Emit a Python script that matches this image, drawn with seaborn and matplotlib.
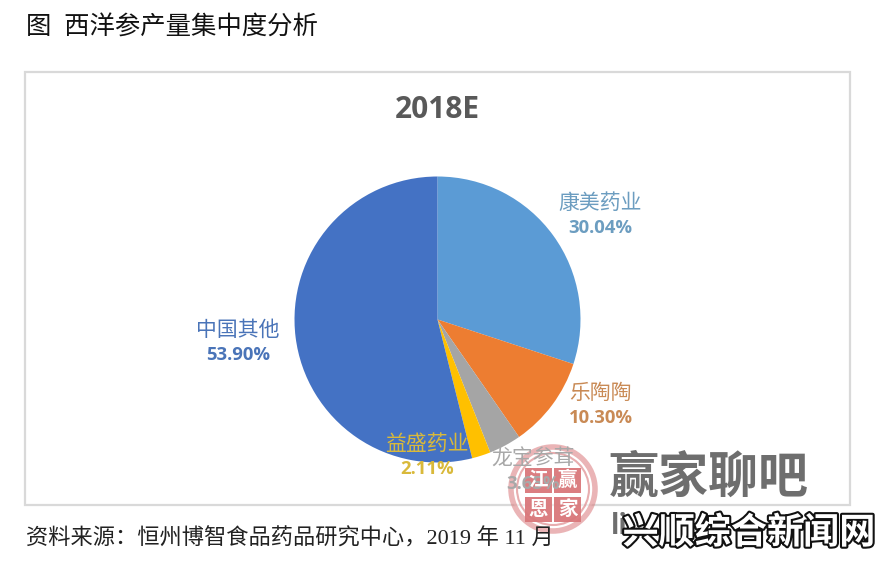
import matplotlib
matplotlib.use("Agg")
import matplotlib.pyplot as plt
import matplotlib.patheffects as pe
from matplotlib.patches import Circle, Rectangle
import seaborn as sns

sns.set_theme(style="white")
CJK = ["Noto Sans CJK SC", "DejaVu Sans"]
SERIF = ["Liberation Serif", "Noto Sans CJK SC"]
plt.rcParams["font.family"] = CJK

# --- data ---
companies = ["康美药业", "乐陶陶", "龙宝参茸", "益盛药业", "中国其他"]
shares = [30.04, 10.30, 3.65, 2.11, 53.90]
share_labels = ["30.04%", "10.30%", "3.65%", "2.11%", "53.90%"]
chart_title = "2018E"
page_title = "图  西洋参产量集中度分析"
source_note = "资料来源：恒州博智食品药品研究中心，2019 年 11 月"

# --- style ---
slice_colors = sns.color_palette(["#5B9BD5", "#ED7D31", "#A5A5A5", "#FFC000", "#4472C4"])
label_colors = ["#6C9DC0", "#C98A55", "#A8A8A8", "#D9B93A", "#4A74B8"]
label_px = [(600, 215), (601, 405), (533, 471), (427, 456), (238, 342)]

W, H = 888, 563
fig = plt.figure(figsize=(W / 100, H / 100), dpi=100, facecolor="white")


def fx(x):
    return x / W


def fy(y):
    return 1 - y / H


# chart frame
fig.add_artist(Rectangle((fx(25), fy(505)), 825 / W, 433 / H, transform=fig.transFigure,
                         facecolor="white", edgecolor="#D9D9D9", linewidth=1.6, zorder=-1))

# pie
cx, cy, r = 437.5, 319.5, 143
ax = fig.add_axes([fx(cx - r), fy(cy + r), 2 * r / W, 2 * r / H], zorder=1)
ax.pie(shares, colors=slice_colors, startangle=90, counterclock=False, radius=1,
       wedgeprops=dict(linewidth=0))
ax.set_xlim(-1, 1)
ax.set_ylim(-1, 1)
ax.set_aspect("equal")
ax.set_axis_off()
ax.patch.set_alpha(0)

# overlay axes in pixel coordinates, for every text above the pie
sax = fig.add_axes([0, 0, 1, 1], zorder=5)
sax.set_xlim(0, W)
sax.set_ylim(H, 0)
sax.set_axis_off()
sax.patch.set_alpha(0)

# page texts
sax.text(26, 28, page_title, fontsize=18.3, color="#111111", va="center", ha="left",
         family=SERIF)
sax.text(437, 110, chart_title, fontsize=21.5, color="#595959", va="center", ha="center",
         fontweight="bold", family=["Open Sans"])
sax.text(26, 539, source_note, fontsize=16, color="#222222", va="center", ha="left",
         family=SERIF)

# slice labels
for name, pct, col, (lx, ly) in zip(companies, share_labels, label_colors, label_px):
    sax.text(lx, ly - 12, name, fontsize=15, color=col, ha="center", va="center")
    sax.text(lx, ly + 13, pct, fontsize=13.3, color=col, ha="center", va="center",
             fontweight="bold", family=["Open Sans"])

# seal overlay
seal = "#D9777A"
sx, sy = 553, 489
sax.add_patch(Circle((sx, sy), 42, facecolor="white", edgecolor=seal, linewidth=4, alpha=0.55))
sax.add_patch(Circle((sx, sy), 36, facecolor="none", edgecolor=seal, linewidth=1.5, alpha=0.6))
for (dx, dy, ch) in [(-28, -21, "江"), (1, -21, "赢"), (-28, 8, "恩"), (1, 8, "家")]:
    sax.add_patch(Rectangle((sx + dx, sy + dy), 27, 25, facecolor=seal, edgecolor="none", alpha=0.95))
    sax.text(sx + dx + 13.5, sy + dy + 12.5, ch, color="white", fontsize=14, ha="center",
             va="center", fontweight="bold")

# site watermarks
sax.text(709, 478, "赢家聊吧", color="#6E6E6E", fontsize=36, fontweight="bold",
         ha="center", va="center")
sax.text(611, 527, "li", color="#6E6E6E", fontsize=20, fontweight="bold", ha="left", va="center",
         family=["Open Sans"])
t = sax.text(749, 533, "兴顺综合新闻网", color="white", fontsize=26, fontweight="bold",
             ha="center", va="center")
t.set_path_effects([pe.withStroke(linewidth=3, foreground="#111111")])

fig.savefig("out.png", dpi=100, facecolor="white")
